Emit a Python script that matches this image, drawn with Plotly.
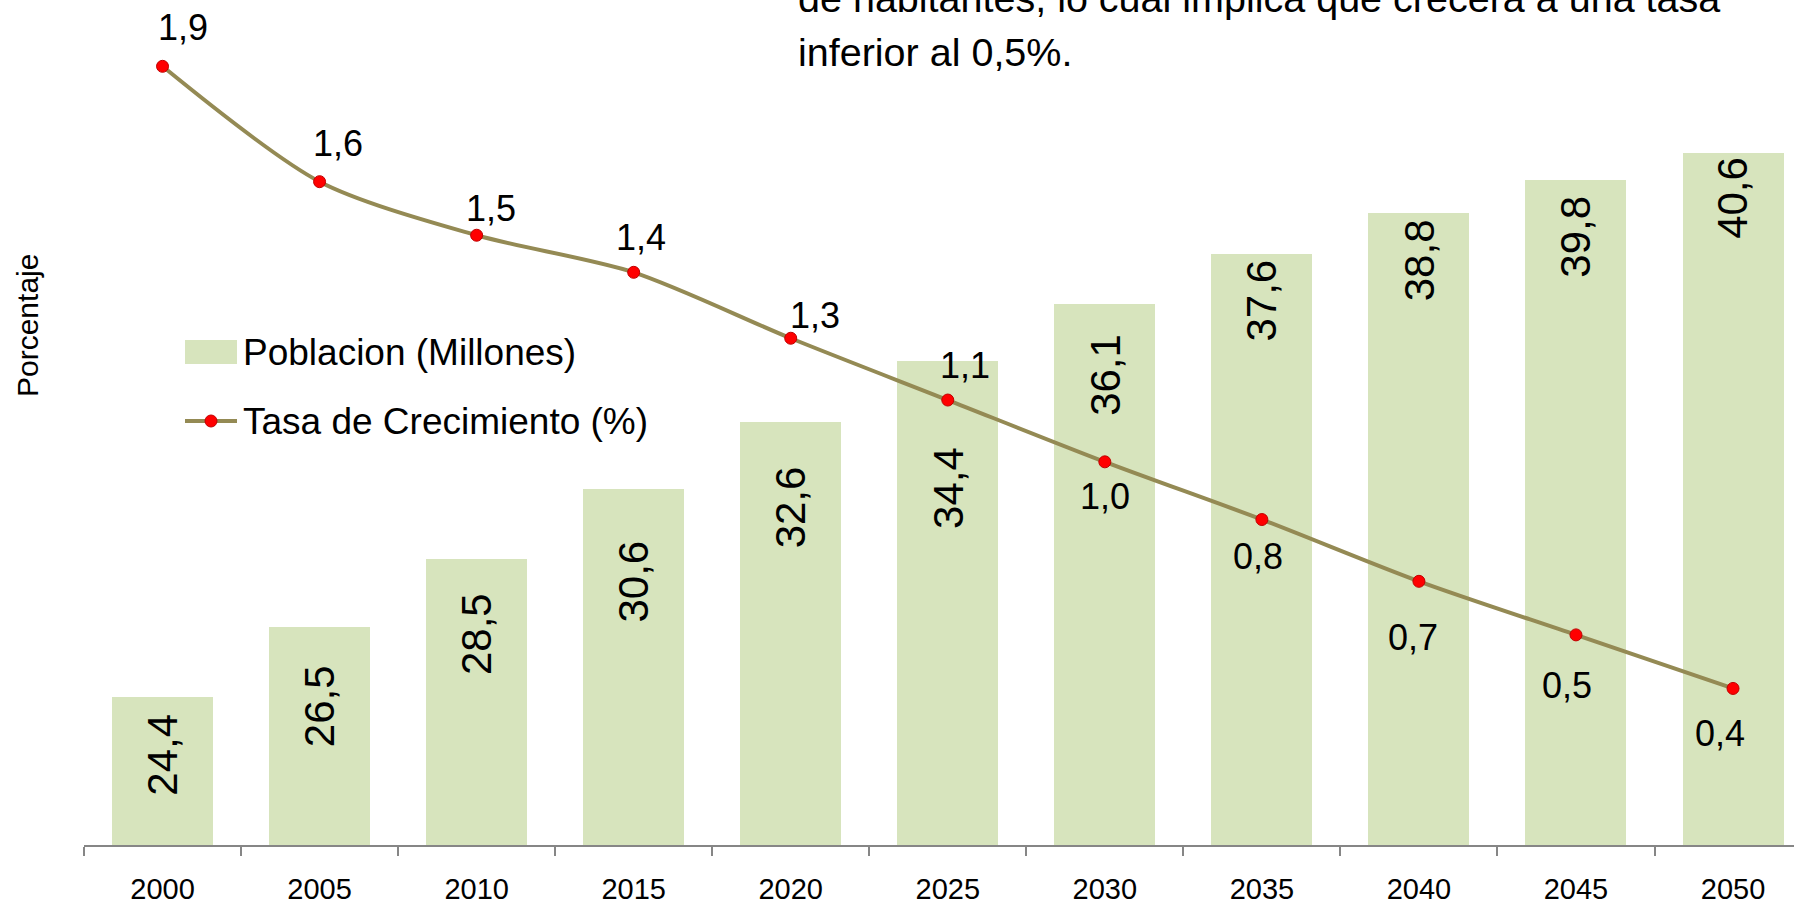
import plotly.graph_objects as go

# ---- data ----
years = ["2000", "2005", "2010", "2015", "2020", "2025", "2030", "2035", "2040", "2045", "2050"]
poblacion = [24.4, 26.5, 28.5, 30.6, 32.6, 34.4, 36.1, 37.6, 38.8, 39.8, 40.6]
tasa = [1.92, 1.64, 1.51, 1.42, 1.26, 1.11, 0.96, 0.82, 0.67, 0.54, 0.41]

legend_bar = "Poblacion (Millones)"
legend_line = "Tasa de Crecimiento (%)"
axis_title = "Porcentaje"
note_line1 = "de habitantes, lo cual implica que crecerá a una tasa"
note_line2 = "inferior al 0,5%."

# ---- layout geometry (pixels) ----
W, H = 1794, 907
ML, MR, MT, MB = 84, 0, 0, 62
PW, PH = W - ML - MR, H - MT - MB
CAT = 157.05          # pixels per category
Y1_MIN, Y1_PX = 20, 33.6
Y2_MIN, Y2_PX = 0.03, 412.0

# label offsets (pixels) - placement tweaks
bar_label_drop = [58, 80, 75, 93, 86, 127, 71, 47, 47, 57, 45]
line_label_dx = [20, 18, 14, 7, 24, 17, 0, -4, -6, -9, -13]
line_label_dy = [-39, -38, -27, -35, -23, -35, 35, 37, 56, 51, 45]

def px(xp):
    return (xp - ML) / PW

def py(yp):
    return 1 - (yp - MT) / PH

def fmt(v):
    return f"{v:.1f}".replace(".", ",")

BAR_COLOR = "#D7E4BD"
LINE_COLOR = "#948A54"
MARK_COLOR = "#FF0000"
SANS = "Liberation Sans, Arial, sans-serif"

fig = go.Figure()
fig.add_trace(go.Bar(
    x=years, y=poblacion, name=legend_bar,
    marker=dict(color=BAR_COLOR, line=dict(width=0)),
    width=0.643, yaxis="y", showlegend=False, hoverinfo="x+y",
))
fig.add_trace(go.Scatter(
    x=years, y=tasa, name=legend_line, yaxis="y2",
    mode="lines+markers",
    line=dict(color=LINE_COLOR, width=4, shape="spline", smoothing=0.8),
    marker=dict(color=MARK_COLOR, size=12, line=dict(color="#C00000", width=1)),
    showlegend=False,
))

ann = []
# bar labels
for i, v in enumerate(poblacion):
    ann.append(dict(
        x=i, y=v, xref="x", yref="y", text=fmt(v), showarrow=False,
        textangle=-90, yshift=-bar_label_drop[i], xanchor="center", yanchor="middle",
        font=dict(family=SANS, size=42, color="#000000"),
    ))
# line labels
for i, v in enumerate(tasa):
    ann.append(dict(
        x=i, y=v, xref="x", yref="y2", text=fmt(v), showarrow=False,
        xshift=line_label_dx[i], yshift=-line_label_dy[i],
        xanchor="center", yanchor="middle",
        font=dict(family=SANS, size=36, color="#000000"),
    ))
# legend (custom)
ann.append(dict(x=px(241), y=py(352), xref="paper", yref="paper", text=legend_bar,
                showarrow=False, xanchor="left", yanchor="middle",
                font=dict(family=SANS, size=37, color="#000000")))
ann.append(dict(x=px(241), y=py(421), xref="paper", yref="paper", text=legend_line,
                showarrow=False, xanchor="left", yanchor="middle",
                font=dict(family=SANS, size=37, color="#000000")))
# axis title
ann.append(dict(x=px(28), y=py(325), xref="paper", yref="paper", text=axis_title,
                showarrow=False, textangle=-90, xanchor="center", yanchor="middle",
                font=dict(family=SANS, size=30, color="#000000")))
# note text (cropped at the top, as in the original)
ann.append(dict(x=px(796), y=py(-2), xref="paper", yref="paper", text=note_line1,
                showarrow=False, xanchor="left", yanchor="middle",
                font=dict(family=SANS, size=39.5, color="#000000")))
ann.append(dict(x=px(796), y=py(51.5), xref="paper", yref="paper", text=note_line2,
                showarrow=False, xanchor="left", yanchor="middle",
                font=dict(family=SANS, size=39.5, color="#000000")))

shapes = [
    dict(type="rect", xref="paper", yref="paper", x0=px(185), x1=px(237), y0=py(364), y1=py(340),
         fillcolor=BAR_COLOR, line=dict(width=0)),
    dict(type="line", xref="paper", yref="paper", x0=px(185), x1=px(237), y0=py(421), y1=py(421),
         line=dict(color=LINE_COLOR, width=4)),
    dict(type="circle", xref="paper", yref="paper", x0=px(205), x1=px(217), y0=py(427), y1=py(415),
         fillcolor=MARK_COLOR, line=dict(color="#C00000", width=1)),
]

fig.update_layout(
    width=W, height=H,
    margin=dict(l=ML, r=MR, t=MT, b=MB, pad=0),
    paper_bgcolor="white", plot_bgcolor="white",
    showlegend=False,
    bargap=0,
    xaxis=dict(
        type="category", range=[-0.5, -0.5 + PW / CAT],
        showline=True, linecolor="#868686", linewidth=2,
        ticks="outside", ticklen=9, tickwidth=1.5, tickcolor="#868686",
        tickson="boundaries", showgrid=False, zeroline=False,
        tickfont=dict(family=SANS, size=29, color="#000000"),
        ticklabelstandoff=17,
    ),
    yaxis=dict(range=[Y1_MIN, Y1_MIN + PH / Y1_PX], visible=False, showgrid=False),
    yaxis2=dict(range=[Y2_MIN, Y2_MIN + PH / Y2_PX], overlaying="y", side="right",
                visible=False, showgrid=False),
    annotations=ann,
    shapes=shapes,
)

fig.write_html(
    "out.html",
    config={"displayModeBar": False},
    post_script="document.body.style.margin='0';document.body.style.overflow='hidden';",
)
